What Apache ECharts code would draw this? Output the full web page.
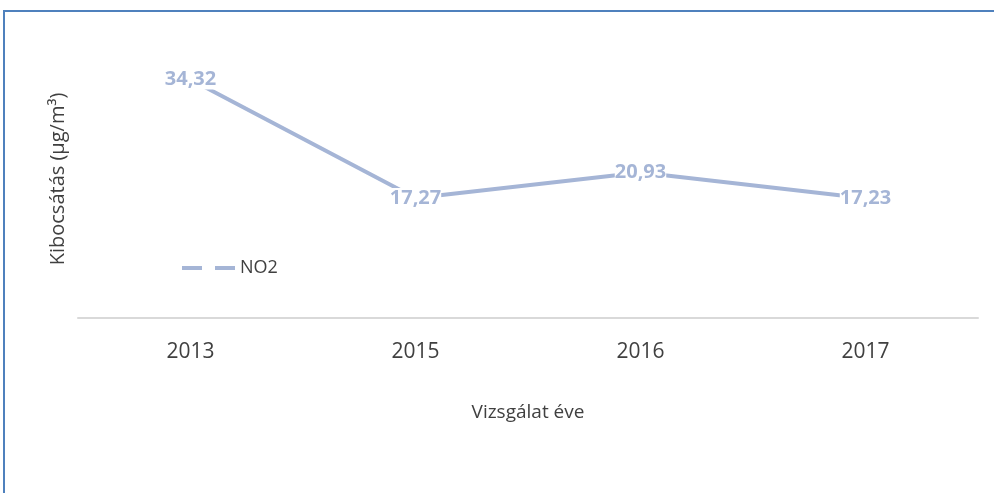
<!DOCTYPE html>
<html>
<head>
<meta charset="utf-8">
<script src="https://cdn.jsdelivr.net/npm/echarts@6/dist/echarts.min.js"></script>
<style>
  html, body { margin: 0; padding: 0; background: #fff; }
  .lineBox { width: 994px; height: 493px; }
</style>
</head>
<body>
<div class="lineBox"></div>
<script>
  // adatok
  var years = ['2013', '2015', '2016', '2017'];
  var no2 = [34.32, 17.27, 20.93, 17.23];
  var lineColor = '#a5b5d6';

  var myChart = echarts.init(document.querySelector('.lineBox'));
  var option = {
    textStyle: { fontFamily: 'Open Sans' },
    graphic: [{
      type: 'polyline',
      shape: { points: [[4, 493], [4, 11], [994, 11]] },
      style: { stroke: '#4f81bd', lineWidth: 2, fill: null }
    }],
    grid: { left: 78, right: 16, top: 40, bottom: 175 },
    legend: {
      left: 177, top: 254,
      itemWidth: 53, itemHeight: 4, itemGap: 6,
      icon: 'path://M0,0 h20 v4 h-20 z M33,0 h20 v4 h-20 z',
      textStyle: { fontSize: 18, color: '#404040', fontFamily: 'Open Sans' },
      data: ['NO2']
    },
    xAxis: {
      type: 'category',
      data: years,
      boundaryGap: true,
      axisLine: { lineStyle: { color: '#d9d9d9', width: 2 } },
      axisTick: { show: false },
      axisLabel: { margin: 24, fontSize: 21, color: '#404040' },
      name: 'Vizsgálat éve',
      nameLocation: 'middle',
      nameGap: 85,
      nameTextStyle: { fontSize: 19, color: '#404040' }
    },
    yAxis: {
      type: 'value',
      min: 0, max: 40,
      axisLine: { show: false },
      axisLabel: { show: false },
      axisTick: { show: false },
      splitLine: { show: false },
      name: 'Kibocsátás (µg/m³)',
      nameLocation: 'middle',
      nameGap: 10,
      nameTextStyle: { fontSize: 20, color: '#404040' }
    },
    series: [{
      name: 'NO2',
      type: 'line',
      data: no2,
      symbol: 'circle',
      symbolSize: 0,
      lineStyle: { color: lineColor, width: 4 },
      itemStyle: { color: lineColor },
      label: {
        show: true,
        position: 'inside',
        color: lineColor,
        fontWeight: 'bold',
        fontSize: 20,
        backgroundColor: '#fff',
        formatter: function (p) { return p.value.toFixed(2).replace('.', ','); }
      }
    }]
  };
  myChart.setOption(option);
</script>
</body>
</html>
